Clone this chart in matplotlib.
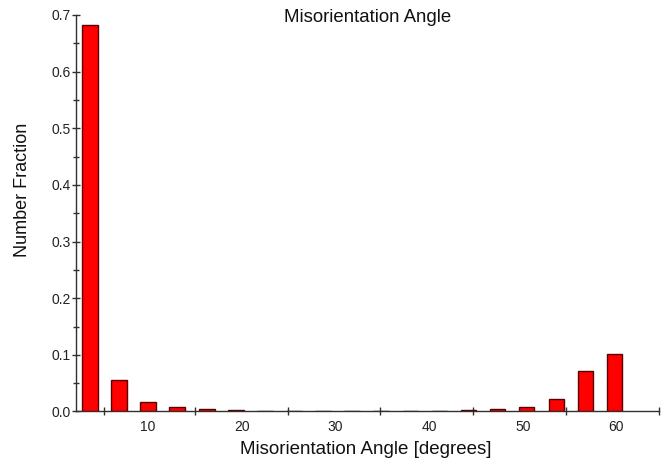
import matplotlib
matplotlib.use("Agg")
import matplotlib.pyplot as plt
from matplotlib.ticker import FixedLocator, NullFormatter

plt.rcParams['font.family'] = ['Liberation Sans', 'DejaVu Sans']

# Bin centres (degrees) and number fractions
bin_centers = [3.8, 6.9, 10.0, 13.1, 16.3, 19.4, 22.5, 25.6, 28.7, 31.8,
               34.9, 38.0, 41.1, 44.2, 47.3, 50.4, 53.6, 56.7, 59.8]
fractions = [0.682, 0.056, 0.016, 0.0085, 0.005, 0.003, 0.0015, 0.001, 0.001, 0.001,
             0.001, 0.001, 0.001, 0.003, 0.0045, 0.008, 0.0225, 0.071, 0.1015]
x_tick_labels = ["10", "20", "30", "40", "50", "60"]
x_label_pos = [10, 20, 30, 40, 50, 60]
y_ticks = [0.0, 0.1, 0.2, 0.3, 0.4, 0.5, 0.6, 0.7]

fig = plt.figure(figsize=(6.7, 4.61), dpi=100)
ax = fig.add_axes([0.1134, 0.1074, 0.8702, 0.8601])

ax.bar(bin_centers, fractions, width=1.65, color='#ff0000',
       edgecolor='#5a0000', linewidth=1.0, zorder=3)

ax.set_xlim(2.32, 64.55)
ax.set_ylim(0, 0.7)

spine_col = '#303030'
for s in ['top', 'right']:
    ax.spines[s].set_visible(False)
for s in ['left', 'bottom']:
    ax.spines[s].set_color(spine_col)
    ax.spines[s].set_linewidth(1.0)

# y axis
ax.set_yticks(y_ticks)
ax.set_yticklabels([f"{v:.1f}" for v in y_ticks])
ax.yaxis.set_minor_locator(FixedLocator([0.05, 0.15, 0.25, 0.35, 0.45, 0.55, 0.65]))
ax.tick_params(axis='y', which='major', direction='inout', length=6, width=1,
               color=spine_col, labelsize=10, labelcolor='#222222', pad=1)
ax.tick_params(axis='y', which='minor', direction='inout', length=5, width=1,
               color=spine_col)

# x axis: tick marks between labels, labels without tick marks
ax.set_xticks(x_label_pos)
ax.set_xticklabels(x_tick_labels)
ax.tick_params(axis='x', which='major', length=0, labelsize=10,
               labelcolor='#222222', pad=6)
ax.xaxis.set_minor_locator(FixedLocator([5.3, 15.0, 24.9, 34.8, 44.7, 54.6, 64.5]))
ax.xaxis.set_minor_formatter(NullFormatter())
ax.tick_params(axis='x', which='minor', direction='inout', length=6, width=1,
               color=spine_col)

fig.text(0.5494, 0.961, "Misorientation Angle", ha='center', va='center',
         fontsize=13.4, color='#111111')
fig.text(0.546, 0.024, "Misorientation Angle [degrees]", ha='center', va='center',
         fontsize=13.5, color='#111111')
fig.text(0.033, 0.588, "Number Fraction", ha='center', va='center',
         rotation=90, fontsize=13, color='#111111')

fig.savefig("out.png", dpi=100)
